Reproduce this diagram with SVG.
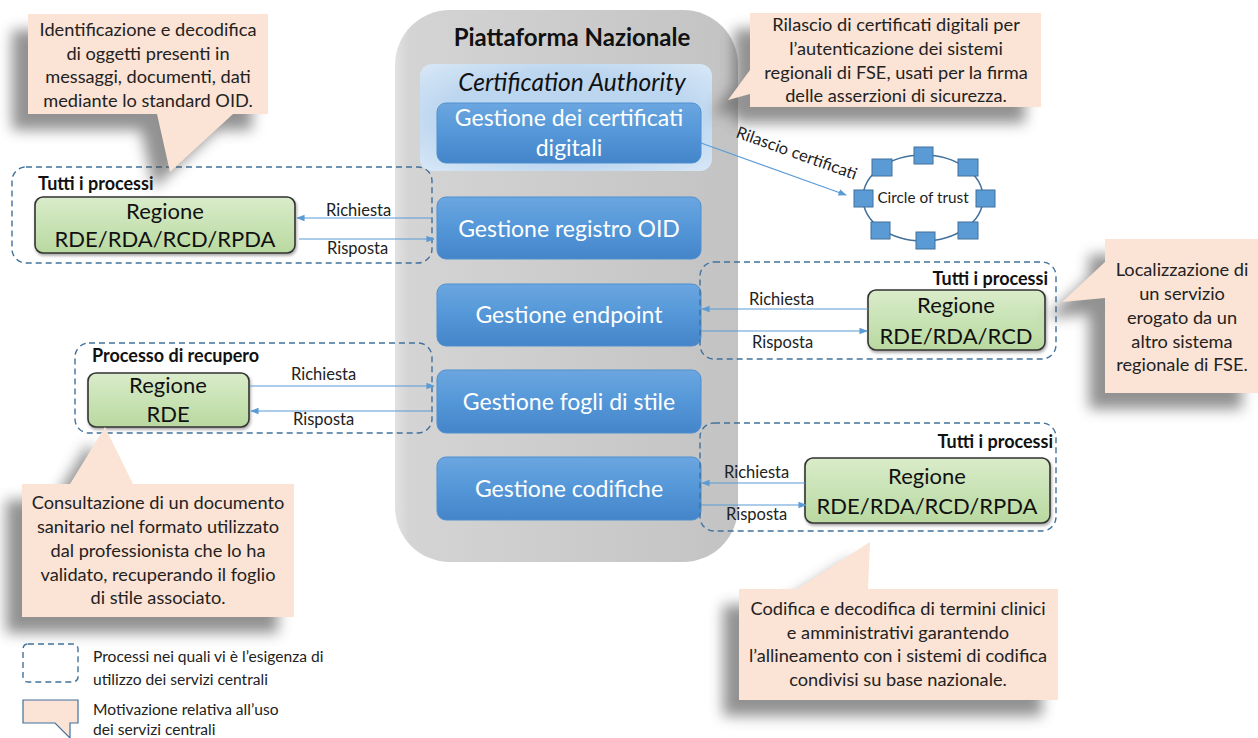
<svg xmlns="http://www.w3.org/2000/svg" width="1258" height="738" viewBox="0 0 1258 738">
  <defs>
    <style>
      text { font-family: Lato, "Open Sans", "Liberation Sans", sans-serif; }
      .callout { fill: #fbe3d5; }
      .shadow { fill: #4a4a4a; opacity: 0.6; filter: url(#blur); }
      .note { font-size: 18.2px; fill: #222; text-anchor: middle; }
      .svc { fill: url(#blueGrad); stroke: #4f8fd0; stroke-width: 1; }
      .svcText { font-size: 23px; fill: #fff; text-anchor: middle; }
      .group { fill: none; stroke: #41719c; stroke-width: 1.4; stroke-dasharray: 6 4; }
      .groupTitle { font-size: 18px; font-weight: bold; fill: #111; }
      .region { fill: url(#greenGrad); stroke: #333; stroke-width: 1.6; filter: url(#drop); }
      .regionText { font-size: 22px; fill: #111; text-anchor: middle; }
      .flow { stroke: #5b9bd5; stroke-width: 1.2; fill: none; }
      .flowLabel { font-size: 16.5px; fill: #222; }
      .node { fill: #5b9bd5; stroke: #41719c; stroke-width: 1; }
      .legend { font-size: 15.6px; fill: #222; }
    </style>
    <filter id="blur" x="-20%" y="-20%" width="140%" height="140%">
      <feGaussianBlur stdDeviation="7"/>
    </filter>
    <filter id="drop" x="-10%" y="-20%" width="120%" height="150%">
      <feDropShadow dx="1" dy="2" stdDeviation="1.5" flood-color="#000" flood-opacity="0.35"/>
    </filter>
    <linearGradient id="platGrad" x1="0" y1="0" x2="1" y2="0">
      <stop offset="0" stop-color="#e2e2e2"/>
      <stop offset="0.04" stop-color="#d4d4d4"/>
      <stop offset="1" stop-color="#c3c3c3"/>
    </linearGradient>
    <linearGradient id="blueGrad" x1="0" y1="0" x2="0" y2="1">
      <stop offset="0" stop-color="#6ba6e0"/>
      <stop offset="0.5" stop-color="#5497d8"/>
      <stop offset="1" stop-color="#4485c9"/>
    </linearGradient>
    <linearGradient id="greenGrad" x1="0" y1="0" x2="0" y2="1">
      <stop offset="0" stop-color="#d9ecca"/>
      <stop offset="1" stop-color="#b9d9a0"/>
    </linearGradient>
    <radialGradient id="caGrad" cx="0.5" cy="0.5" r="0.7">
      <stop offset="0.6" stop-color="#bcd6ef"/>
      <stop offset="1" stop-color="#d8e8f7"/>
    </radialGradient>
    <marker id="arrow" viewBox="0 0 10 10" refX="9" refY="5" markerWidth="7" markerHeight="7" orient="auto-start-reverse">
      <path d="M0,1 L10,5 L0,9 z" fill="#5b9bd5"/>
    </marker>
  </defs>

  <!-- National platform container -->
  <g id="piattaforma">
    <rect x="395" y="10" width="343" height="552" rx="55" fill="url(#platGrad)"/>
    <text x="572" y="46" font-size="24" font-weight="bold" text-anchor="middle" fill="#111">Piattaforma Nazionale</text>
  </g>

  <g id="certification-authority">
    <rect x="420" y="64" width="292" height="107" rx="12" fill="url(#caGrad)"/>
    <text x="572" y="91" font-size="24.5" font-style="italic" text-anchor="middle" fill="#111">Certification Authority</text>
  </g>

  <g id="svc-certificati">
    <rect class="svc" x="437" y="103" width="264" height="60" rx="9"/>
    <text class="svcText" x="569" y="126">Gestione dei certificati</text>
    <text class="svcText" x="569" y="156">digitali</text>
  </g>
  <g id="svc-oid">
    <rect class="svc" x="437" y="197" width="264" height="62" rx="9"/>
    <text class="svcText" x="569" y="237">Gestione registro OID</text>
  </g>
  <g id="svc-endpoint">
    <rect class="svc" x="437" y="284" width="264" height="62" rx="9"/>
    <text class="svcText" x="569" y="323">Gestione endpoint</text>
  </g>
  <g id="svc-fogli">
    <rect class="svc" x="437" y="370" width="264" height="63" rx="9"/>
    <text class="svcText" x="569" y="410">Gestione fogli di stile</text>
  </g>
  <g id="svc-codifiche">
    <rect class="svc" x="437" y="457" width="264" height="63" rx="9"/>
    <text class="svcText" x="569" y="497">Gestione codifiche</text>
  </g>

  <!-- Process groups -->
  <g id="group-oid">
    <rect class="group" x="12" y="167" width="420" height="96" rx="14"/>
    <text class="groupTitle" x="38" y="190">Tutti i processi</text>
    <rect class="region" x="35" y="197" width="260" height="56" rx="8"/>
    <text class="regionText" x="165" y="219">Regione</text>
    <text class="regionText" x="165" y="247">RDE/RDA/RCD/RPDA</text>
  </g>
  <g id="group-endpoint">
    <rect class="group" x="700" y="262" width="356" height="97" rx="14"/>
    <text class="groupTitle" x="1048" y="285" text-anchor="end">Tutti i processi</text>
    <rect class="region" x="868" y="290" width="177" height="60" rx="8"/>
    <text class="regionText" x="956" y="313">Regione</text>
    <text class="regionText" x="956" y="344">RDE/RDA/RCD</text>
  </g>
  <g id="group-fogli">
    <rect class="group" x="75" y="343" width="357" height="90" rx="14"/>
    <text class="groupTitle" x="92" y="362">Processo di recupero</text>
    <rect class="region" x="88" y="373" width="161" height="54" rx="8"/>
    <text class="regionText" x="168" y="393">Regione</text>
    <text class="regionText" x="168" y="422">RDE</text>
  </g>
  <g id="group-codifiche">
    <rect class="group" x="700" y="423" width="356" height="108" rx="14"/>
    <text class="groupTitle" x="1053" y="448" text-anchor="end">Tutti i processi</text>
    <rect class="region" x="805" y="458" width="245" height="65" rx="8"/>
    <text class="regionText" x="927" y="484">Regione</text>
    <text class="regionText" x="927" y="514">RDE/RDA/RCD/RPDA</text>
  </g>

  <!-- Circle of trust -->
  <g id="circle-of-trust">
    <ellipse cx="923" cy="198" rx="60" ry="43" fill="none" stroke="#41719c" stroke-width="1.5"/>
    <rect class="node" x="914" y="147" width="19" height="17"/>
    <rect class="node" x="872" y="159" width="20" height="17"/>
    <rect class="node" x="958" y="159" width="20" height="17"/>
    <rect class="node" x="854" y="190" width="19" height="17"/>
    <rect class="node" x="976" y="190" width="19" height="17"/>
    <rect class="node" x="871" y="222" width="19" height="17"/>
    <rect class="node" x="958" y="222" width="20" height="17"/>
    <rect class="node" x="916" y="232" width="19" height="17"/>
    <text x="923" y="203" font-size="15.3" text-anchor="middle" fill="#222">Circle of trust</text>
  </g>

  <!-- Connectors -->
  <g id="connectors">
    <line class="flow" x1="701" y1="143" x2="846" y2="195" marker-end="url(#arrow)"/>
    <text class="flowLabel" font-size="14.5" transform="translate(735,137) rotate(19.7)">Rilascio certificati</text>

    <line class="flow" x1="432" y1="218" x2="297" y2="218" marker-end="url(#arrow)"/>
    <line class="flow" x1="299" y1="239" x2="434" y2="239" marker-end="url(#arrow)"/>
    <text class="flowLabel" x="326" y="216">Richiesta</text>
    <text class="flowLabel" x="327" y="254">Risposta</text>

    <line class="flow" x1="868" y1="309" x2="702" y2="309" marker-end="url(#arrow)"/>
    <line class="flow" x1="701" y1="331" x2="867" y2="331" marker-end="url(#arrow)"/>
    <text class="flowLabel" x="749" y="305">Richiesta</text>
    <text class="flowLabel" x="752" y="348">Risposta</text>

    <line class="flow" x1="250" y1="386" x2="434" y2="386" marker-end="url(#arrow)"/>
    <line class="flow" x1="432" y1="411" x2="251" y2="411" marker-end="url(#arrow)"/>
    <text class="flowLabel" x="291" y="380">Richiesta</text>
    <text class="flowLabel" x="293" y="425">Risposta</text>

    <line class="flow" x1="805" y1="483" x2="702" y2="483" marker-end="url(#arrow)"/>
    <line class="flow" x1="701" y1="505" x2="806" y2="505" marker-end="url(#arrow)"/>
    <text class="flowLabel" x="724" y="478">Richiesta</text>
    <text class="flowLabel" x="726" y="520">Risposta</text>
  </g>

  <!-- Explanatory callouts -->
  <g id="callout-oid">
    <path class="shadow" transform="translate(-16,16)" d="M28,14 H268 V114 H233 L170,172 L157,114 H28 Z"/>
    <path class="callout" d="M28,14 H268 V114 H233 L170,172 L157,114 H28 Z"/>
    <text class="note" x="148" y="36">Identificazione e decodifica</text>
    <text class="note" x="148" y="60">di oggetti presenti in</text>
    <text class="note" x="148" y="83">messaggi, documenti, dati</text>
    <text class="note" x="148" y="107">mediante lo standard OID.</text>
  </g>
  <g id="callout-ca">
    <path class="shadow" transform="translate(-16,16)" d="M750,13 H1041 V107 H750 V94 L728,100 L750,70 Z"/>
    <path class="callout" d="M750,13 H1041 V107 H750 V94 L728,100 L750,70 Z"/>
    <text class="note" x="896" y="31">Rilascio di certificati digitali per</text>
    <text class="note" x="896" y="55">l’autenticazione dei sistemi</text>
    <text class="note" x="896" y="79">regionali di FSE, usati per la firma</text>
    <text class="note" x="896" y="102">delle asserzioni di sicurezza.</text>
  </g>
  <g id="callout-endpoint">
    <path class="shadow" transform="translate(-16,16)" d="M1105,239 H1258 V393 H1105 V298 L1062,302 L1105,262 Z"/>
    <path class="callout" d="M1105,239 H1258 V393 H1105 V298 L1062,302 L1105,262 Z"/>
    <text class="note" x="1182" y="276">Localizzazione di</text>
    <text class="note" x="1182" y="300">un servizio</text>
    <text class="note" x="1182" y="324">erogato da un</text>
    <text class="note" x="1182" y="348">altro sistema</text>
    <text class="note" x="1182" y="371">regionale di FSE.</text>
  </g>
  <g id="callout-fogli">
    <path class="shadow" transform="translate(-16,16)" d="M22,484 H70 L105,427 L133,484 H294 V617 H22 Z"/>
    <path class="callout" d="M22,484 H70 L105,427 L133,484 H294 V617 H22 Z"/>
    <text class="note" x="158" y="509">Consultazione di un documento</text>
    <text class="note" x="158" y="533">sanitario nel formato utilizzato</text>
    <text class="note" x="158" y="557">dal professionista che lo ha</text>
    <text class="note" x="158" y="581">validato, recuperando il foglio</text>
    <text class="note" x="158" y="604">di stile associato.</text>
  </g>
  <g id="callout-codifiche">
    <path class="shadow" transform="translate(-16,16)" d="M739,589 H797 L870,542 L868,589 H1058 V700 H739 Z"/>
    <path class="callout" d="M739,589 H797 L870,542 L868,589 H1058 V700 H739 Z"/>
    <text class="note" x="898" y="615">Codifica e decodifica di termini clinici</text>
    <text class="note" x="898" y="639">e amministrativi garantendo</text>
    <text class="note" x="898" y="662">l’allineamento con i sistemi di codifica</text>
    <text class="note" x="898" y="686">condivisi su base nazionale.</text>
  </g>

  <!-- Legend -->
  <g id="legend">
    <rect class="group" x="23" y="644" width="55" height="38" rx="5"/>
    <text class="legend" x="93" y="662">Processi nei quali vi è l’esigenza di</text>
    <text class="legend" x="93" y="685">utilizzo dei servizi centrali</text>
    <path d="M23,700 H78 V723 H70 V738 L55,723 H23 Z" fill="#fbe3d5" stroke="#41719c" stroke-width="1.2"/>
    <text class="legend" x="93" y="715">Motivazione relativa all’uso</text>
    <text class="legend" x="93" y="735">dei servizi centrali</text>
  </g>
</svg>
